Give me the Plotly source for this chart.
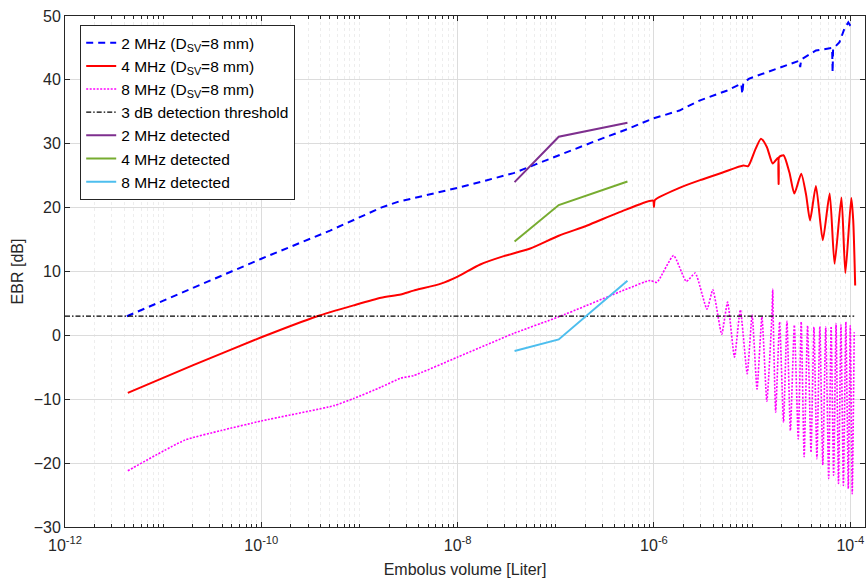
import numpy as np
import plotly.graph_objects as go

# ---- data (x given as log10 of embolus volume in liters) ----
blue_logx = [-11.37, -10.7, -10.0, -9.3, -8.78, -8.61, -8.3, -8.0, -7.7, -7.43, -7.2, -6.97,
             -6.6, -6.27, -6.02, -5.74, -5.53, -5.26, -5.11, -5.10, -5.09, -5.03, -4.79,
             -4.52, -4.51, -4.50, -4.35, -4.21, -4.185, -4.18, -4.175, -4.16, -4.11,
             -4.06, -4.02, -4.0, -3.96]
blue_db = [3.0, 7.4, 12.0, 16.4, 20.0, 20.9, 22.0, 23.1, 24.3, 25.4, 26.8, 28.2,
           30.4, 32.3, 33.9, 35.2, 36.8, 38.3, 39.4, 37.8, 39.5, 40.2, 41.5,
           43.0, 42.0, 43.2, 44.6, 44.9, 45.0, 41.2, 45.0, 45.1, 45.9,
           48.0, 49.0, 48.5, 48.0]

red_logx = [-11.36, -10.7, -10.0, -9.43, -9.06, -8.78, -8.58, -8.45, -8.17, -8.0, -7.77,
            -7.53, -7.26, -6.97, -6.68, -6.35, -6.01, -6.0, -5.99, -5.74, -5.53, -5.3,
            -5.09, -5.04, -4.97, -4.91, -4.85, -4.79, -4.735, -4.73, -4.725, -4.68,
            -4.62, -4.57, -4.50, -4.45, -4.41, -4.35, -4.28, -4.21, -4.16, -4.09,
            -4.05, -3.99, -3.97, -3.95]
red_db = [-9.0, -4.7, -0.3, 3.0, 4.7, 5.9, 6.4, 7.0, 8.1, 9.2, 11.1,
          12.4, 13.6, 15.6, 17.2, 19.3, 21.1, 20.1, 21.2, 23.1, 24.3, 25.5,
          26.6, 26.5, 29.0, 30.8, 29.5, 26.9, 27.8, 23.7, 27.9, 28.2,
          25.5, 22.2, 25.3, 22.0, 18.0, 23.4, 14.9, 22.2, 11.2, 21.6,
          9.75, 21.5, 18.0, 7.8]

mag_logx = [-11.36, -10.78, -10.41, -10.0, -9.26, -9.06, -8.78, -8.58, -8.45, -8.0,
            -7.43, -6.97, -6.27, -6.04, -5.97, -5.80, -5.67, -5.58, -5.46, -5.40,
            -5.31, -5.25, -5.18, -5.12, -5.05, -5.00, -4.95, -4.90, -4.85, -4.80,
            -4.79, -4.785, -4.76, -4.72, -4.68, -4.645, -4.61, -4.57, -4.53, -4.50,
            -4.47, -4.435, -4.40, -4.37, -4.34, -4.31, -4.28, -4.25, -4.22, -4.195,
            -4.17, -4.145, -4.12, -4.095, -4.07, -4.045, -4.02, -4.0, -3.98, -3.96]
mag_db = [-21.2, -16.4, -14.9, -13.4, -11.0, -9.9, -8.1, -6.7, -6.3, -3.4,
          0.3, 2.9, 7.3, 8.6, 8.3, 12.5, 8.45, 9.75, 4.1, 7.15,
          0.2, 5.2, -3.4, 4.0, -6.0, 3.2, -8.4, 2.9, -10.3, 2.6,
          7.2, 2.6, -12.0, 2.1, -13.6, 2.2, -14.9, 1.6, -16.2, 2.1,
          -19.0, 1.5, -18.3, 1.3, -19.3, 1.4, -20.3, 1.3, -22.4, 1.4,
          -21.9, 1.8, -23.2, 1.6, -23.5, 2.1, -24.0, 1.5, -24.8, 0.5]

thr_logx = [-12.0, -3.96]
thr_db = [3.0, 3.0]

det_logx = [-7.42, -6.97, -6.27]
det2_db = [24.0, 31.1, 33.3]
det4_db = [14.7, 20.4, 24.1]
det8_db = [-2.45, -0.63, 8.56]

tick_exp = [-12, -10, -8, -6, -4]

def V(lx):
    return [10.0 ** v for v in lx]

FONT = "Liberation Sans, Arial, Helvetica, sans-serif"
TXT = "#262626"

fig = go.Figure()
fig.add_trace(go.Scatter(x=V(blue_logx), y=blue_db, mode="lines",
                         name="2 MHz (D<sub>SV</sub>=8 mm)",
                         line=dict(color="#0000FF", width=2, dash="7px,5px")))
fig.add_trace(go.Scatter(x=V(red_logx), y=red_db, mode="lines",
                         name="4 MHz (D<sub>SV</sub>=8 mm)",
                         line=dict(color="#FF0000", width=2, shape="spline", smoothing=0.6)))
fig.add_trace(go.Scatter(x=V(mag_logx), y=mag_db, mode="lines",
                         name="8 MHz (D<sub>SV</sub>=8 mm)",
                         line=dict(color="#FF00FF", width=1.6, dash="2px,1.5px",
                                   shape="spline", smoothing=0.5)))
fig.add_trace(go.Scatter(x=V(thr_logx), y=thr_db, mode="lines",
                         name="3 dB detection threshold",
                         line=dict(color="#000000", width=1.2, dash="5px,2px,1.5px,2px")))
fig.add_trace(go.Scatter(x=V(det_logx), y=det2_db, mode="lines",
                         name="2 MHz detected",
                         line=dict(color="#7E2F8E", width=2)))
fig.add_trace(go.Scatter(x=V(det_logx), y=det4_db, mode="lines",
                         name="4 MHz detected",
                         line=dict(color="#77AC30", width=2)))
fig.add_trace(go.Scatter(x=V(det_logx), y=det8_db, mode="lines",
                         name="8 MHz detected",
                         line=dict(color="#4DBEEE", width=2)))

minor_vals = []
for e in range(-12, -3):
    for m in range(1, 10):
        v = m * 10.0 ** e
        if m == 1 and e % 2 == 0:
            continue
        minor_vals.append(v)

fig.update_layout(
    width=866, height=587,
    margin=dict(l=65, r=1, t=16, b=60),
    paper_bgcolor="white", plot_bgcolor="white",
    font=dict(family=FONT, size=16, color=TXT),
    showlegend=True,
    legend=dict(x=0.019, y=0.982, xanchor="left", yanchor="top",
                bgcolor="white", bordercolor=TXT, borderwidth=1,
                font=dict(size=15.5, color="#000000"),
                itemwidth=30, tracegroupgap=0),
)
fig.update_xaxes(
    type="log", range=[-12, -3.85],
    tickmode="array", tickvals=[10.0 ** e for e in tick_exp],
    ticktext=["10<sup>%d</sup>" % e for e in tick_exp],
    tickfont=dict(size=16),
    ticks="inside", ticklen=5, tickcolor=TXT, ticklabelstandoff=4,
    showline=True, linecolor=TXT, linewidth=1, mirror="ticks",
    showgrid=True, gridcolor="#DCDCDC", gridwidth=1,
    minor=dict(tickmode="array", tickvals=minor_vals, ticks="inside", ticklen=3,
               tickcolor=TXT, showgrid=True, gridcolor="#EDEDED", griddash="dot"),
    zeroline=False,
    title=dict(text="Embolus volume [Liter]", font=dict(size=16), standoff=10),
)
fig.update_yaxes(
    range=[-30, 50], dtick=10, tick0=0,
    tickfont=dict(size=16),
    ticks="inside", ticklen=5, tickcolor=TXT,
    showline=True, linecolor=TXT, linewidth=1, mirror="ticks",
    showgrid=True, gridcolor="#DCDCDC", gridwidth=1,
    zeroline=False,
    title=dict(text="EBR [dB]", font=dict(size=16), standoff=6),
)

fig.write_html("out.html")
